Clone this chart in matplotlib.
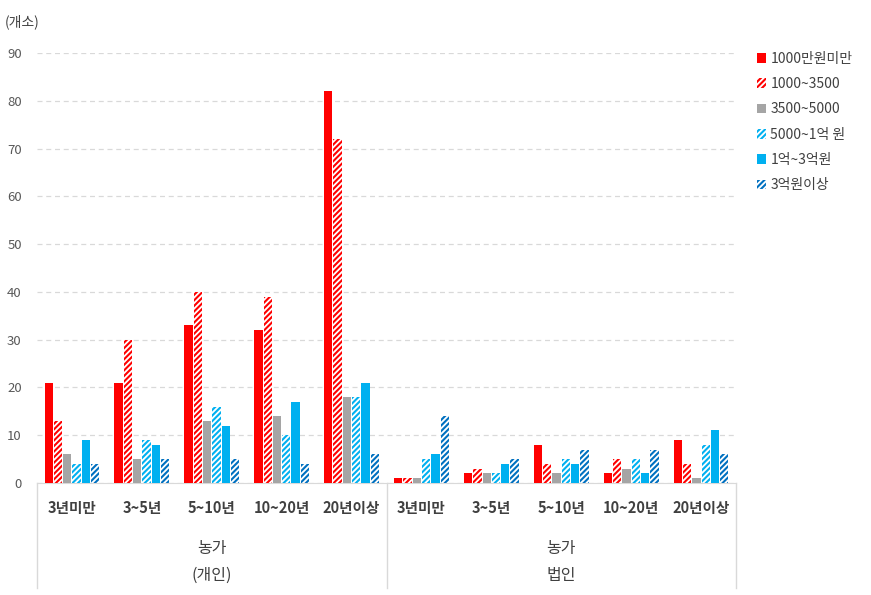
import matplotlib.pyplot as plt
import numpy as np

plt.rcParams['font.family'] = ['Noto Sans CJK KR', 'DejaVu Sans']
plt.rcParams['hatch.linewidth'] = 1.5

periods = ['3년미만', '3~5년', '5~10년', '10~20년', '20년이상']
groups = ['농가\n(개인)', '농가\n법인']
series = ['1000만원미만', '1000~3500', '3500~5000', '5000~1억 원', '1억~3억원', '3억원이상']

# values: 개인 5 periods then 법인 5 periods
s_lt1000 = [21, 21, 33, 32, 82, 1, 2, 8, 2, 9]
s_1000_3500 = [13, 30, 40, 39, 72, 1, 3, 4, 5, 4]
s_3500_5000 = [6, 5, 13, 14, 18, 1, 2, 2, 3, 1]
s_5000_1e = [4, 9, 16, 10, 18, 5, 2, 5, 5, 8]
s_1e_3e = [9, 8, 12, 17, 21, 6, 4, 4, 2, 11]
s_3e_up = [4, 5, 5, 4, 6, 14, 5, 7, 7, 6]
values = [s_lt1000, s_1000_3500, s_3500_5000, s_5000_1e, s_1e_3e, s_3e_up]

colors = ['#FF0000', '#FF0000', '#A5A5A5', '#00B0F0', '#00B0F0', '#0070C0']
hatched = [False, True, False, True, False, True]

fig = plt.figure(figsize=(8.71, 5.95), dpi=100)
ax = fig.add_axes([37 / 871, 112 / 595, 699 / 871, 430 / 595])

n = len(s_lt1000)
x = np.arange(n)
w = 0.118
step = 0.133
for i, (vals, c, h) in enumerate(zip(values, colors, hatched)):
    pos = x + (i - 2.5) * step
    if h:
        ax.bar(pos, vals, width=w, facecolor='white', edgecolor=c,
               hatch='//////', linewidth=0, label=series[i], zorder=3)
    else:
        ax.bar(pos, vals, width=w, color=c, label=series[i], zorder=3)

ax.set_xlim(-0.5, n - 0.5)
ax.set_ylim(0, 90)
ax.set_yticks(range(0, 91, 10))
ax.yaxis.grid(True, color='#D9D9D9', linestyle=(0, (4, 3)), linewidth=0.9)
ax.set_axisbelow(True)
for s in ['top', 'right', 'left']:
    ax.spines[s].set_visible(False)
ax.spines['bottom'].set_color('#D9D9D9')
ax.tick_params(axis='y', length=0, labelsize=9.5, labelcolor='#595959', pad=11)
ax.set_xticks([])

trans = ax.get_xaxis_transform()
for i in range(n):
    ax.text(i, -0.058, periods[i % 5], transform=trans, ha='center', va='center',
            fontsize=10.5, fontweight='bold', color='#404040')
for g, lbl in enumerate(groups):
    top, bottom = lbl.split('\n')
    ax.text(g * 5 + 2, -0.152, top, transform=trans, ha='center', va='center',
            fontsize=11.5, color='#404040')
    ax.text(g * 5 + 2, -0.215, bottom, transform=trans, ha='center', va='center',
            fontsize=11.5, color='#404040')
for xv in [-0.5, 4.5, 9.5]:
    ax.plot([xv, xv], [0, -0.245], transform=trans, color='#D9D9D9',
            linewidth=1, clip_on=False)

fig.text(5 / 871, 1 - 22 / 595, '(개소)', fontsize=10, color='#404040', va='center')

ax.legend(loc='upper left', bbox_to_anchor=(744 / 871, 1 - 39 / 595),
          bbox_transform=fig.transFigure, frameon=False, fontsize=10,
          handlelength=0.7, handleheight=0.7, handletextpad=0.3,
          labelspacing=0.82, labelcolor='#404040')

fig.savefig('out.png', dpi=100)
